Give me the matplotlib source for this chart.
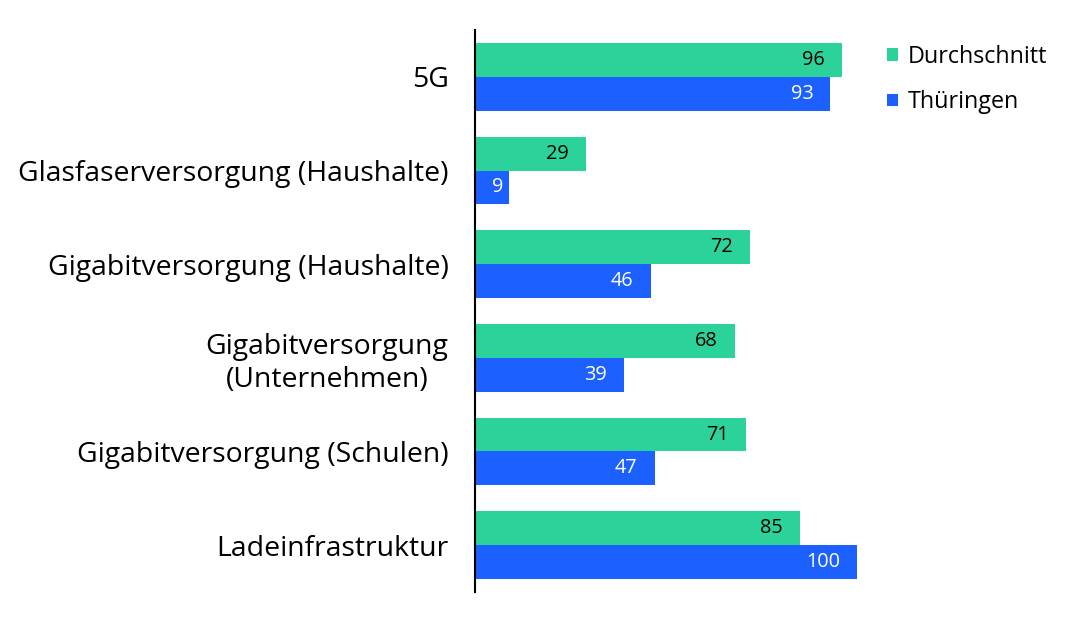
import matplotlib
matplotlib.use("Agg")
import matplotlib.pyplot as plt
import numpy as np

categories = ["5G", "Glasfaserversorgung (Haushalte)", "Gigabitversorgung (Haushalte)",
              "Gigabitversorgung\n(Unternehmen)", "Gigabitversorgung (Schulen)", "Ladeinfrastruktur"]
durchschnitt = [96, 29, 72, 68, 71, 85]
thueringen = [93, 9, 46, 39, 47, 100]
series_names = ["Durchschnitt", "Thüringen"]

green = "#2BD39A"
blue = "#1C60FF"

plt.rcParams['font.family'] = ['Open Sans', 'DejaVu Sans']

fig = plt.figure(figsize=(10.9, 6.23), dpi=100)
ax = fig.add_axes([475/1090, 1-592/623, (857-475)/1090, (592-30)/623])

y = np.arange(len(categories))
h = 0.36
b1 = ax.barh(y - h/2, durchschnitt, height=h, color=green, label=series_names[0])
b2 = ax.barh(y + h/2, thueringen, height=h, color=blue, label=series_names[1])

for bars, vals, col in [(b1, durchschnitt, "black"), (b2, thueringen, "white")]:
    for bar, v in zip(bars, vals):
        off = -17 if v >= 15 else -6
        ax.annotate(str(v), (bar.get_width(), bar.get_y() + bar.get_height()/2),
                    xytext=(off, 0), textcoords="offset pixels",
                    ha="right", va="center", fontsize=14.3, color=col)

ax.set_xlim(0, 100)
ax.set_ylim(5.5, -0.5)
ax.set_yticks(y)
ax.set_yticklabels(categories, fontsize=20.4)
for lbl in ax.get_yticklabels():
    lbl.set_multialignment("center")
ax.tick_params(axis="y", length=0, pad=19)
ax.set_xticks([])
for s in ["top", "right", "bottom"]:
    ax.spines[s].set_visible(False)
ax.spines["left"].set_linewidth(1.5)
ax.spines["left"].set_color("black")

leg = fig.legend(handles=[b1, b2], labels=series_names, loc="upper left",
                 bbox_to_anchor=(866/1090, 1-24/623), frameon=False,
                 fontsize=16.8, handlelength=0.45, handleheight=0.45,
                 handletextpad=0.45, labelspacing=0.92)

fig.savefig("out.png", dpi=100)
